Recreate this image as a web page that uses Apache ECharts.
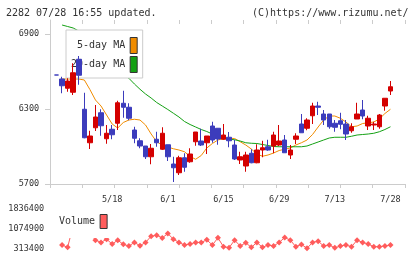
<!DOCTYPE html>
<html>
<head>
<meta charset="utf-8">
<script src="https://cdn.jsdelivr.net/npm/echarts@6/dist/echarts.min.js"></script>
<style>
  html, body { margin: 0; padding: 0; background: #fff; }
  #chart { width: 420px; height: 259px; }
</style>
</head>
<body>
<div id="chart"></div>
<script>
// trading days 2023/5/1 .. 7/28
const dates = [
  '5/1', '5/2', '5/8', '5/9', '5/10', '5/11', '5/12', '5/15', '5/16', '5/17',
  '5/18', '5/19', '5/22', '5/23', '5/24', '5/25', '5/26', '5/29', '5/30', '5/31',
  '6/1', '6/2', '6/5', '6/6', '6/7', '6/8', '6/9', '6/12', '6/13', '6/14',
  '6/15', '6/16', '6/19', '6/20', '6/21', '6/22', '6/23', '6/26', '6/27', '6/28',
  '6/29', '6/30', '7/3', '7/4', '7/5', '7/6', '7/7', '7/10', '7/11', '7/12',
  '7/13', '7/14', '7/18', '7/19', '7/20', '7/21', '7/24', '7/25', '7/26', '7/27',
  '7/28'
]
const tickLabels = ['5/18', '6/1', '6/15', '6/29', '7/13', '7/28']

const opens = [
  6572, 6540, 6466, 6434, 6698, 6298, 6030, 6150, 6270, 6062,
  6138, 6186, 6346, 6314, 6132, 6046, 6004, 5918, 6058, 5978,
  6014, 5860, 5790, 5910, 5878, 6038, 6044, 6030, 6164, 6146,
  6058, 6074, 6012, 5892, 5844, 5946, 5870, 5972, 5998, 6004,
  6012, 6052, 5932, 6058, 6180, 6146, 6246, 6324, 6260, 6260,
  6186, 6206, 6180, 6126, 6220, 6292, 6164, 6172, 6158, 6324,
  6444
]
const closes = [
  6572, 6486, 6524, 6590, 6570, 6070, 6084, 6236, 6166, 6106,
  6094, 6350, 6314, 6226, 6066, 6004, 5918, 5986, 6030, 6106,
  5918, 5830, 5910, 5834, 5940, 6116, 6012, 6084, 6052, 6060,
  6092, 6046, 5900, 5918, 5932, 5870, 5972, 5990, 5972, 6092,
  6044, 5950, 5972, 6084, 6110, 6212, 6324, 6314, 6212, 6158,
  6154, 6178, 6100, 6158, 6260, 6244, 6226, 6180, 6252, 6386,
  6478
]
const lows = [
  6572, 6426, 6438, 6412, 6494, 6066, 5980, 6124, 6086, 6022,
  6058, 6132, 6230, 6210, 6026, 5986, 5900, 5858, 5998, 5972,
  5884, 5716, 5772, 5798, 5870, 6006, 6004, 5940, 6030, 6014,
  6052, 5994, 5892, 5860, 5798, 5866, 5866, 5914, 5966, 5946,
  6004, 5950, 5900, 6020, 6110, 6130, 6180, 6252, 6172, 6142,
  6118, 6138, 6052, 6110, 6220, 6218, 6132, 6132, 6142, 6286,
  6412
]
const highs = [
  6572, 6558, 6546, 6666, 6724, 6430, 6126, 6332, 6298, 6172,
  6172, 6366, 6446, 6346, 6158, 6066, 6004, 6020, 6118, 6154,
  6014, 5918, 5926, 5946, 5986, 6116, 6142, 6084, 6198, 6146,
  6180, 6116, 6054, 5958, 5958, 5978, 6018, 6046, 6054, 6118,
  6172, 6092, 6012, 6106, 6260, 6226, 6350, 6358, 6292, 6260,
  6212, 6270, 6212, 6186, 6350, 6372, 6246, 6198, 6260, 6386,
  6524
]
const ma5 = [
  null, 6540, 6540, 6540, 6540, 6532, 6456, 6372, 6324, 6252,
  6180, 6148, 6192, 6212, 6218, 6212, 6172, 6100, 6038, 6012,
  5996, 5982, 5972, 5958, 5920, 5898, 5928, 5988, 6024, 6052,
  6064, 6066, 6064, 6038, 6012, 5980, 5940, 5922, 5932, 5948,
  5968, 5978, 5988, 6012, 6030, 6052, 6096, 6156, 6212, 6244,
  6244, 6226, 6196, 6158, 6164, 6184, 6190, 6196, 6220, 6264,
  6298
]
const ma20 = [
  null, 6972, 6960, 6948, 6924, 6892, 6852, 6812, 6764, 6716,
  6668, 6620, 6580, 6546, 6500, 6458, 6420, 6388, 6352, 6324,
  6296, 6266, 6236, 6200, 6176, 6156, 6136, 6120, 6100, 6074,
  6064, 6058, 6054, 6044, 6030, 6026, 6024, 6016, 6008, 6000,
  5998, 5998, 5998, 5998, 5998, 6004, 6020, 6036, 6052, 6068,
  6074, 6074, 6074, 6082, 6092, 6096, 6100, 6106, 6118, 6136,
  6158
]
const volumes = [
  null, 439000, 351000, 1200000, 1836400, 1500000, 900000, 629000, 542000, 667000,
  477000, 629000, 466000, 401000, 542000, 412000, 542000, 782000, 820000, 717000,
  884000, 667000, 542000, 439000, 477000, 542000, 541000, 640000, 439000, 718000,
  375000, 337000, 629000, 401000, 528000, 350000, 541000, 350000, 439000, 401000,
  541000, 731000, 629000, 375000, 465000, 313400, 541000, 591000, 401000, 439000,
  330000, 401000, 439000, 375000, 629000, 541000, 477000, 375000, 375000, 401000,
  439000
]

const FONT = '"DejaVu Sans Mono", "Liberation Mono", monospace'
const RED = '#d40000'
const BLUE = '#3c3cbc'
const ORANGE = '#f08c00'
const GREEN = '#13a013'
const VOL = '#ff5c5c'
const AXIS = '#cccccc'

// one empty slot before the first day, two after the last
const cats = [' '].concat(dates, ['  ', '   '])
const pad = (arr) => ['-'].concat(arr.map(v => v == null ? '-' : v), ['-', '-'])
const candles = pad(dates.map((d, i) => [opens[i], closes[i], lows[i], highs[i]]))

const chart = echarts.init(document.getElementById('chart'))

chart.setOption({
  animation: false,
  title: [
    {
      text: '2282 07/28 16:55 updated.',
      left: 6, top: 8, padding: 0,
      textStyle: { fontFamily: FONT, fontSize: 10, fontWeight: 'normal', color: '#333' }
    },
    {
      text: '(C)https://www.rizumu.net/',
      left: 252, top: 8, padding: 0,
      textStyle: { fontFamily: FONT, fontSize: 10, fontWeight: 'normal', color: '#333' }
    }
  ],
  legend: [
    {
      left: 66, top: 30, orient: 'vertical', align: 'right',
      padding: [7, 5, 5, 5], itemGap: 2, itemWidth: 7, itemHeight: 16,
      backgroundColor: '#fff', borderColor: AXIS, borderWidth: 1,
      selectedMode: false,
      textStyle: { fontFamily: FONT, fontSize: 10, color: '#333' },
      data: [
        { name: '5-day MA', icon: 'rect', itemStyle: { color: ORANGE, borderColor: '#333', borderWidth: 1 } },
        { name: '20-day MA', icon: 'rect', itemStyle: { color: GREEN, borderColor: '#333', borderWidth: 1 } }
      ]
    },
    {
      // white box hides the clipped volume spike behind it, as in the original
      left: 54, top: 203, align: 'right',
      padding: [11, 5, 9, 5], itemWidth: 7, itemHeight: 14,
      backgroundColor: '#fff', selectedMode: false,
      textStyle: { fontFamily: FONT, fontSize: 10, color: '#333' },
      data: [
        { name: 'Volume', icon: 'rect', itemStyle: { color: VOL, borderColor: '#333', borderWidth: 1 } }
      ]
    }
  ],
  grid: [
    { left: 48.15, right: 15.6, top: 20, bottom: 75 },
    { left: 50, right: 15, top: 20, bottom: 75 },
    { left: 48.15, right: 15.6, top: 209, bottom: 10.7 }
  ],
  xAxis: [
    {
      type: 'category', gridIndex: 0, data: cats, boundaryGap: true,
      axisLine: { show: false }, axisTick: { show: false },
      axisLabel: {
        margin: 11, fontFamily: FONT, fontSize: 8.5, color: '#333',
        interval: (i, v) => tickLabels.indexOf(v) >= 0
      }
    },
    {
      type: 'value', gridIndex: 1, min: 0, max: 11, interval: 1,
      axisLine: { show: true, lineStyle: { color: AXIS } },
      axisTick: { show: true, length: 4, lineStyle: { color: AXIS } },
      axisLabel: { show: false }, splitLine: { show: false }
    },
    {
      type: 'value', gridIndex: 1, min: 0, max: 11, interval: 1,
      axisLine: { show: false },
      axisTick: { show: true, inside: true, length: 4, lineStyle: { color: AXIS } },
      axisLabel: { show: false }, splitLine: { show: false }
    },
    {
      type: 'category', gridIndex: 2, data: cats, boundaryGap: true, show: false
    }
  ],
  yAxis: [
    {
      type: 'value', gridIndex: 0, min: 5700, max: 7012,
      axisLine: { show: false }, axisTick: { show: false }, splitLine: { show: false },
      axisLabel: {
        margin: 9, fontFamily: FONT, fontSize: 8.5, color: '#333',
        customValues: [5700, 6300, 6900], formatter: (v) => String(v)
      }
    },
    {
      type: 'value', gridIndex: 1, min: 5700, max: 7012,
      axisLine: { show: true, lineStyle: { color: AXIS } },
      axisTick: { show: true, length: 5, customValues: [5700, 6300, 6900], lineStyle: { color: AXIS } },
      axisLabel: { show: false }, splitLine: { show: false }
    },
    {
      type: 'value', gridIndex: 1, min: 5700, max: 7012,
      axisLine: { show: false },
      axisTick: { show: true, inside: true, length: 3, customValues: [5700, 6300, 6900], lineStyle: { color: AXIS } },
      axisLabel: { show: false }, splitLine: { show: false }
    },
    {
      type: 'value', gridIndex: 2, min: 313400, max: 1836400, interval: 761500,
      axisLine: { show: false }, axisTick: { show: false }, splitLine: { show: false },
      axisLabel: {
        margin: 4, fontFamily: FONT, fontSize: 8.5, color: '#333',
        formatter: (v) => String(v)
      }
    }
  ],
  series: [
    {
      name: '5-day MA', type: 'line', xAxisIndex: 0, yAxisIndex: 0, z: 2,
      data: pad(ma5), showSymbol: false, color: ORANGE,
      lineStyle: { width: 1, color: ORANGE }
    },
    {
      name: '20-day MA', type: 'line', xAxisIndex: 0, yAxisIndex: 0, z: 2,
      data: pad(ma20), showSymbol: false, color: GREEN,
      lineStyle: { width: 1, color: GREEN }
    },
    {
      name: 'price', type: 'candlestick', xAxisIndex: 0, yAxisIndex: 0, z: 6,
      data: candles, barWidth: 5,
      itemStyle: { color: RED, color0: BLUE, borderColor: RED, borderColor0: BLUE, borderWidth: 1 }
    },
    {
      name: 'Volume', type: 'line', xAxisIndex: 3, yAxisIndex: 3, z: 2,
      data: pad(volumes), symbol: 'diamond', symbolSize: 6, showAllSymbol: true, color: VOL,
      itemStyle: { color: VOL }, lineStyle: { width: 1, color: VOL }
    }
  ]
})
</script>
</body>
</html>
